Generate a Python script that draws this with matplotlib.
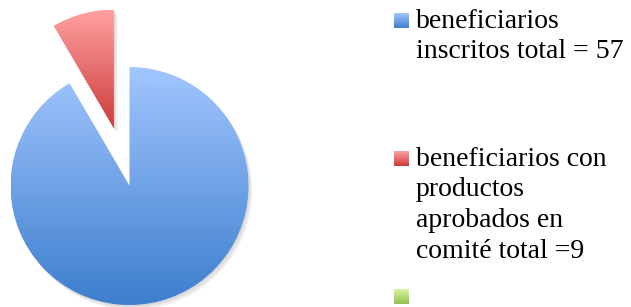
import numpy as np
import matplotlib
matplotlib.use('Agg')
import matplotlib.pyplot as plt
from matplotlib.colors import LinearSegmentedColormap
from matplotlib.patches import Wedge
from matplotlib.transforms import Affine2D

# slices (the red slice covers about 30 degrees)
labels = ['beneficiarios\ninscritos total = 57',
          'beneficiarios con\nproductos\naprobados en\ncomité total =9',
          '']
values = [57, 5.25, 0]
explode = [0, 0.5, 0]   # fraction of radius
tops = ['#a2c6ff', '#ffa0a0', '#d9f7a3']
bottoms = ['#3d7ecd', '#cd3b3b', '#92c04e']

W, H = 631, 307
fig = plt.figure(figsize=(W/100, H/100), dpi=100)
ax = fig.add_axes([0, 0, 1, 1])
ax.set_xlim(0, W); ax.set_ylim(0, H); ax.axis('off')

cx, cy, r = 129.5, H-186, 119
wedges, _ = ax.pie(values, explode=[e*r for e in explode], startangle=90, counterclock=False,
                   center=(cx, cy), radius=r, frame=True)
grad = np.linspace(0, 1, 256).reshape(-1, 1)
for w, c0, c1 in zip(wedges, tops, bottoms):
    if w.theta1 == w.theta2: continue
    # soft shadow
    for k in (1, 2, 3):
        s = Wedge(w.center, w.r, w.theta1, w.theta2, facecolor='#404040', alpha=0.07,
                  edgecolor='none', zorder=0.5)
        s.set_transform(Affine2D().translate(1.2*k, -1.6*k) + ax.transData)
        ax.add_patch(s)
    bb = w.get_path().get_extents()
    cm = LinearSegmentedColormap.from_list('g', [c1, c0])
    w.set_facecolor('none'); w.set_edgecolor('none')
    im = ax.imshow(grad, extent=[bb.x0, bb.x1, bb.y0, bb.y1], cmap=cm, origin='lower',
                   aspect='auto', zorder=1, interpolation='bilinear')
    im.set_clip_path(w)

# legend drawn by hand
baselines = [28, 166, 304]
lh = 30.5
for lab, b, c0, c1 in zip(labels, baselines, tops, bottoms):
    cm = LinearSegmentedColormap.from_list('g', [c1, c0])
    ax.imshow(grad, extent=[394, 409, H-b, H-b+15], cmap=cm, origin='lower',
              aspect='auto', zorder=1, interpolation='bilinear')
    for i, line in enumerate(lab.split('\n')):
        ax.text(416, H-(b+i*lh), line, fontsize=20, family='Liberation Serif',
                va='baseline', ha='left', color='black')

ax.set_xlim(0, W); ax.set_ylim(0, H)
fig.savefig('out.png', dpi=100, facecolor='white')
